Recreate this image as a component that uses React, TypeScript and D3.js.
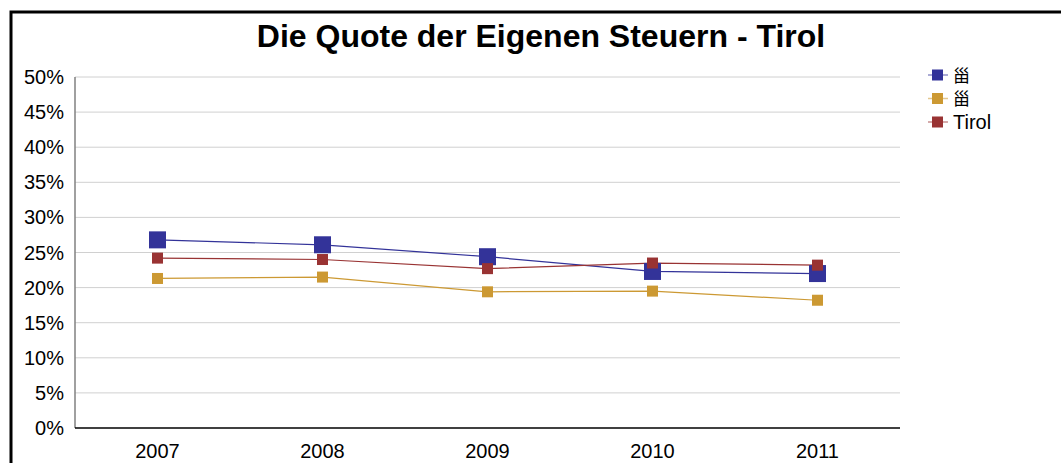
import React, { useEffect, useRef } from "react";
import * as d3 from "d3";

const years = ["2007", "2008", "2009", "2010", "2011"];
const seriesNames = ["甾", "甾", "Tirol"];
const seriesColors = ["#333399", "#cc9933", "#993333"];
const markerSizes = [17, 11, 11];
const blueValues = [26.8, 26.1, 24.4, 22.3, 22.0];
const goldValues = [21.3, 21.5, 19.4, 19.5, 18.2];
const redValues = [24.2, 24.0, 22.7, 23.5, 23.2];
const yTicks = [0, 5, 10, 15, 20, 25, 30, 35, 40, 45, 50];

const W = 1061;
const H = 463;

export default function App() {
  const ref = useRef<SVGSVGElement | null>(null);

  useEffect(() => {
    const svg = d3.select(ref.current);
    svg.selectAll("*").remove();
    const font = "Liberation Sans, Arial, sans-serif";
    const M = { l: 75, r: 900, t: 77, b: 428 };

    const x = d3.scaleBand().domain(years).range([M.l, M.r]);
    const y = d3.scaleLinear().domain([0, 50]).range([M.b, M.t]);

    svg.append("rect").attr("width", W).attr("height", H).attr("fill", "#fff");

    // outer border
    svg
      .append("path")
      .attr("d", `M11,${H + 5} L11,12 L${W + 5},12`)
      .attr("fill", "none")
      .attr("stroke", "#000")
      .attr("stroke-width", 3);

    svg
      .append("text")
      .attr("x", 541)
      .attr("y", 47)
      .attr("text-anchor", "middle")
      .attr("font-family", font)
      .attr("font-weight", "bold")
      .attr("font-size", 32)
      .text("Die Quote der Eigenen Steuern - Tirol");

    // grid
    svg
      .append("g")
      .selectAll("line")
      .data(yTicks.filter((t) => t > 0))
      .enter()
      .append("line")
      .attr("x1", M.l)
      .attr("x2", M.r)
      .attr("y1", (d) => y(d))
      .attr("y2", (d) => y(d))
      .attr("stroke", "#d0d0d0")
      .attr("stroke-width", 1);

    svg
      .append("line")
      .attr("x1", M.l)
      .attr("x2", M.l)
      .attr("y1", M.t)
      .attr("y2", M.b)
      .attr("stroke", "#808080")
      .attr("stroke-width", 1.5);

    svg
      .append("line")
      .attr("x1", M.l)
      .attr("x2", M.r)
      .attr("y1", M.b)
      .attr("y2", M.b)
      .attr("stroke", "#000")
      .attr("stroke-width", 1.5);

    svg
      .append("g")
      .selectAll("text")
      .data(yTicks)
      .enter()
      .append("text")
      .attr("x", 64)
      .attr("y", (d) => y(d) + 7)
      .attr("text-anchor", "end")
      .attr("font-family", font)
      .attr("font-size", 20)
      .text((d) => `${d}%`);

    svg
      .append("g")
      .selectAll("text")
      .data(years)
      .enter()
      .append("text")
      .attr("x", (d) => (x(d) ?? 0) + x.bandwidth() / 2)
      .attr("y", 458)
      .attr("text-anchor", "middle")
      .attr("font-family", font)
      .attr("font-size", 20)
      .text((d) => d);

    const allSeries = [blueValues, goldValues, redValues];
    const line = d3
      .line<number>()
      .x((_, i) => (x(years[i]) ?? 0) + x.bandwidth() / 2)
      .y((d) => y(d));

    allSeries.forEach((vals, si) => {
      svg
        .append("path")
        .attr("d", line(vals))
        .attr("fill", "none")
        .attr("stroke", seriesColors[si])
        .attr("stroke-width", 1.2);
    });
    allSeries.forEach((vals, si) => {
      const s = markerSizes[si];
      svg
        .append("g")
        .selectAll("rect")
        .data(vals)
        .enter()
        .append("rect")
        .attr("x", (_, i) => (x(years[i]) ?? 0) + x.bandwidth() / 2 - s / 2)
        .attr("y", (d) => y(d) - s / 2)
        .attr("width", s)
        .attr("height", s)
        .attr("fill", seriesColors[si]);
    });

    // legend
    const lg = svg.append("g");
    seriesNames.forEach((name, i) => {
      const cy = 75 + i * 23.5;
      lg.append("line")
        .attr("x1", 928)
        .attr("x2", 948)
        .attr("y1", cy)
        .attr("y2", cy)
        .attr("stroke", seriesColors[i])
        .attr("stroke-opacity", 0.55)
        .attr("stroke-width", 1.5);
      lg.append("rect")
        .attr("x", 932)
        .attr("y", cy - 5.5)
        .attr("width", 11)
        .attr("height", 11)
        .attr("fill", seriesColors[i]);
      const cjk = i < 2;
      lg.append("text")
        .attr("x", 953)
        .attr("y", cy + (cjk ? 6.5 : 7))
        .attr("font-family", cjk ? "Noto Sans CJK SC, sans-serif" : font)
        .attr("font-size", cjk ? 17 : 20)
        .text(name);
    });
  }, []);

  return (
    <svg
      ref={ref}
      width={W}
      height={H}
      style={{ position: "absolute", left: 0, top: 0, display: "block" }}
    />
  );
}
